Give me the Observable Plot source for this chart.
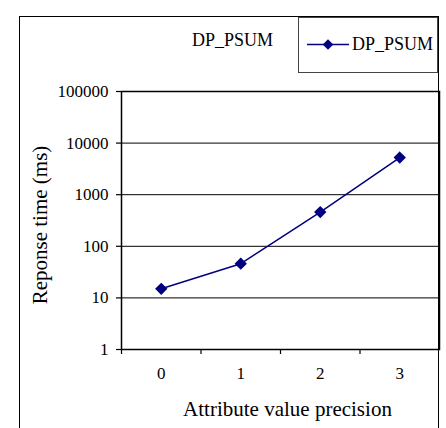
<!DOCTYPE html>
<html>
<head>
<meta charset="utf-8">
<script src="https://cdn.jsdelivr.net/npm/d3@7"></script>
<script src="https://cdn.jsdelivr.net/npm/@observablehq/plot@0.6"></script>
<style>
  html, body { margin: 0; padding: 0; background: #fff; }
  #wrap { position: relative; width: 446px; height: 428px; overflow: hidden; font-family: "Liberation Serif", serif; }
  #outer { position: absolute; left: 19px; top: 16px; width: 420px; height: 430px; border: 1.5px solid #000; border-bottom: none; box-sizing: border-box; pointer-events: none; }
  #legend { position: absolute; left: 298px; top: 17px; width: 140px; height: 56px; border: 1.5px solid #444; box-sizing: border-box; background: #fff; }
  #legend svg { position: absolute; left: 0; top: 0; }
</style>
</head>
<body>
<div id="wrap">
  <div id="chart"></div>
  <div id="outer"></div>
  <div id="legend"></div>
</div>
<script>
const precision = [0, 1, 2, 3];
const responseTime = [15, 46, 460, 5250];
const yTicks = [1, 10, 100, 1000, 10000, 100000];
const seriesName = "DP_PSUM";
const xTitle = "Attribute value precision";
const yTitle = "Reponse time (ms)";
const lineColor = "#000080";
const serif = "'Liberation Serif', serif";

const data = precision.map((p, i) => ({p, v: responseTime[i]}));
const boundaries = precision.map(p => p - 0.5);

const chart = Plot.plot({
  width: 446,
  height: 428,
  marginLeft: 121,
  marginRight: 7,
  marginTop: 91,
  marginBottom: 79,
  style: {fontFamily: serif, fontSize: "17px", background: "transparent", overflow: "visible"},
  x: {domain: [precision[0] - 0.5, precision[precision.length - 1] + 0.5]},
  y: {type: "log", domain: [yTicks[0], yTicks[yTicks.length - 1]]},
  marks: [
    Plot.ruleY(yTicks, {stroke: "#000", strokeWidth: 1}),
    Plot.frame({stroke: "#000", strokeWidth: 1.5}),
    Plot.axisY({ticks: yTicks, tickFormat: d3.format("d"), tickSize: 5, tickPadding: 8, label: null, strokeWidth: 1.2}),
    Plot.axisX({ticks: boundaries, tickFormat: () => "", tickSize: 5, label: null, strokeWidth: 1.2}),
    Plot.axisX({ticks: precision, tickFormat: d3.format("d"), tickSize: 0, tickPadding: 17, label: null}),
    Plot.lineY(data, {x: "p", y: "v", stroke: lineColor, strokeWidth: 1.5}),
    Plot.dot(data, {x: "p", y: "v", symbol: "diamond2", r: 4.6, fill: lineColor, stroke: lineColor}),
    Plot.text([xTitle], {frameAnchor: "bottom", textAnchor: "middle", lineAnchor: "middle", dx: 7, dy: 60, fontSize: 21, fill: "#000"}),
    Plot.text([yTitle], {frameAnchor: "left", textAnchor: "middle", lineAnchor: "middle", dx: -81, dy: 4.5, rotate: -90, fontSize: 21, fill: "#000"}),
    Plot.text([seriesName], {frameAnchor: "top", textAnchor: "middle", lineAnchor: "middle", dx: -48, dy: -51, fontSize: 18, fill: "#000"})
  ]
});
document.getElementById("chart").appendChild(chart);

// legend
const lg = d3.select("#legend").append("svg").attr("width", 140).attr("height", 56);
lg.append("line").attr("x1", 8).attr("x2", 50).attr("y1", 26.5).attr("y2", 26.5).attr("stroke", lineColor).attr("stroke-width", 1.5);
lg.append("path").attr("d", d3.symbol(d3.symbolDiamond2, 70)()).attr("transform", "translate(29,26.5)").attr("fill", lineColor);
lg.append("text").attr("x", 53).attr("y", 32).attr("font-size", 18).attr("font-family", serif).text(seriesName);
</script>
</body>
</html>
